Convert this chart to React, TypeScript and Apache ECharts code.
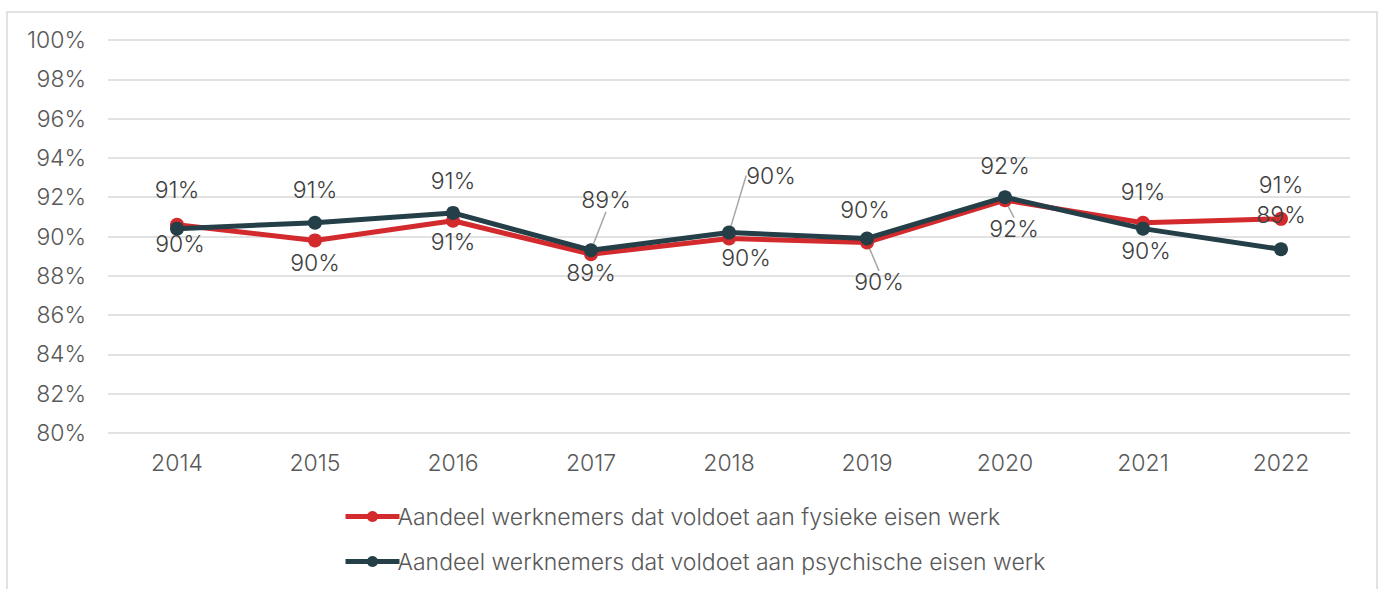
import React, { useEffect, useRef } from "react";
import * as echarts from "echarts";

const years = ["2014", "2015", "2016", "2017", "2018", "2019", "2020", "2021", "2022"];
const fysiek = [90.6, 89.8, 90.8, 89.1, 89.9, 89.7, 91.85, 90.7, 90.9];
const psychisch = [90.4, 90.7, 91.2, 89.3, 90.2, 89.9, 92.0, 90.4, 89.35];
const yTicks = { min: 80, max: 100, step: 2 };
const seriesNames = [
  "Aandeel werknemers dat voldoet aan fysieke eisen werk",
  "Aandeel werknemers dat voldoet aan psychische eisen werk",
];

// label offsets (dx, dy) relative to point, and leader line flags
const fysiekLabelOffsets: [number, number][] = [
  [0, -35], [0, 23], [0, 21], [0, 19], [17, 20], [12, 40], [9, 29], [0, -31], [0, -34],
];
const fysiekLeader = [false, false, false, false, false, true, true, false, false];
const psychLabelOffsets: [number, number][] = [
  [3, 15], [0, -33], [0, -32], [15, -50], [42, -57], [-2, -28], [0, -31], [3, 22], [0, -34],
];
const psychLeader = [false, false, false, true, true, false, false, false, false];

const RED = "#d22a2d";
const DARK = "#243f47";
const FONT = "Inter, Lato, 'Noto Sans', sans-serif";
const FW = 300;
const FS = 23;

export default function App() {
  const ref = useRef<HTMLDivElement>(null);
  useEffect(() => {
    if (!ref.current) return;
    const chart = echarts.init(ref.current, undefined, { renderer: "svg" });
    const mk = (
      name: string,
      values: number[],
      color: string,
      offsets: [number, number][],
      leaders: boolean[],
      z: number
    ) => ({
      name,
      type: "line",
      z,
      data: values.map((v, i) => ({
        value: v,
        labelLine: { show: leaders[i] },
      })),
      symbol: "circle",
      symbolSize: 14,
      lineStyle: { width: 5, color },
      itemStyle: { color },
      label: {
        show: true,
        position: "inside",
        formatter: (p: any) => Math.round(p.value) + "%",
        fontSize: FS,
        fontWeight: FW,
        fontFamily: FONT,
        color: "#404040",
      },
      labelLine: {
        show: false,
        lineStyle: { color: "#a6a6a6", width: 1.5 },
      },
      labelLayout: (p: any) => {
        const o = offsets[p.dataIndex];
        const cx = p.rect.x + p.rect.width / 2;
        const cy = p.rect.y + p.rect.height / 2;
        return {
          x: cx + o[0],
          y: cy + o[1],
          align: "center",
          verticalAlign: "middle",
        };
      },
    });
    chart.setOption({
      animation: false,
      graphic: [
        {
          type: "rect",
          shape: { x: 7, y: 12, width: 1370, height: 600 },
          style: { fill: "none", stroke: "#d9d9d9", lineWidth: 1.5 },
          silent: true,
        },
      ],
      grid: { left: 108, right: 34, top: 40, height: 393 },
      xAxis: {
        type: "category",
        data: years,
        axisLine: { show: false },
        axisTick: { show: false },
        axisLabel: { fontSize: FS, fontWeight: FW, fontFamily: FONT, color: "#595959", margin: 18 },
      },
      yAxis: {
        type: "value",
        min: yTicks.min,
        max: yTicks.max,
        interval: yTicks.step,
        axisLabel: {
          formatter: "{value}%",
          fontSize: FS,
          fontWeight: FW,
          fontFamily: FONT,
          color: "#595959",
          margin: 22,
        },
        splitLine: { lineStyle: { color: "#d9d9d9", width: 1.5 } },
      },
      legend: {
        orient: "vertical",
        left: 338,
        top: 500,
        itemWidth: 54,
        itemHeight: 14,
        itemGap: 22,
        lineStyle: { width: 5 },
        textStyle: {
          fontSize: FS,
          fontWeight: FW,
          fontFamily: FONT,
          color: "#595959",
          padding: [0, 0, 0, -7],
        },
        data: seriesNames,
      },
      series: [
        mk(seriesNames[0], fysiek, RED, fysiekLabelOffsets, fysiekLeader, 2),
        mk(seriesNames[1], psychisch, DARK, psychLabelOffsets, psychLeader, 3),
      ],
    });
    return () => chart.dispose();
  }, []);
  return (
    <div
      ref={ref}
      style={{ position: "absolute", left: 0, top: 0, width: 1384, height: 589, background: "#fff" }}
    />
  );
}
